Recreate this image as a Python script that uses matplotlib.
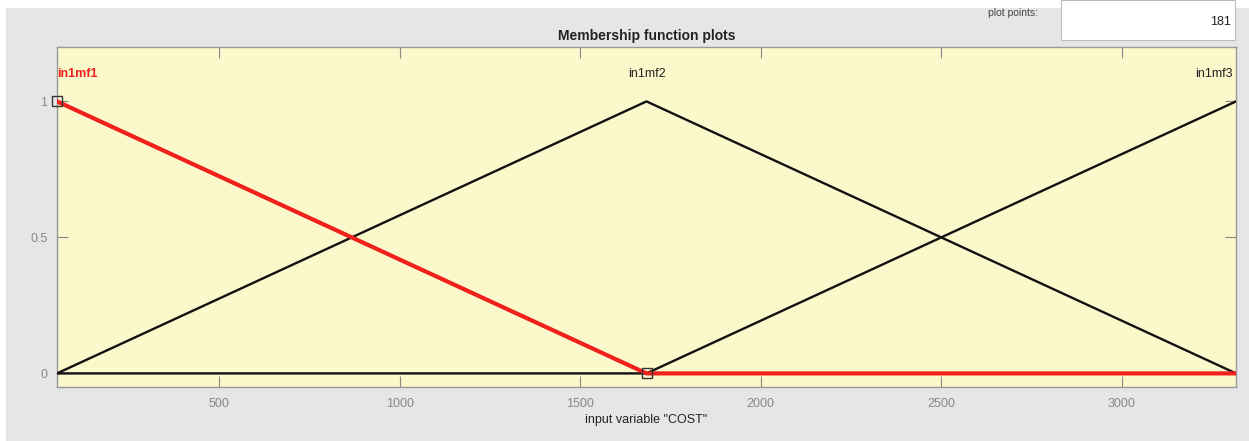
import numpy as np
import matplotlib
matplotlib.use('Agg')
import matplotlib.pyplot as plt
from matplotlib.patches import Rectangle

plt.rcParams['font.family'] = ['Liberation Sans', 'DejaVu Sans']

# input variable range and triangular membership functions (vertices)
x_range = [51, 3316]
mf_names = ['in1mf1', 'in1mf2', 'in1mf3']
mf_x = [51, 1683.5, 3316]
mf1_y = [1, 0, 0]
mf2_y = [0, 1, 0]
mf3_y = [0, 0, 1]
plot_points = 181

xticks = [500, 1000, 1500, 2000, 2500, 3000]
yticks = [0, 0.5, 1]
yticklabels = ['0', '0.5', '1']

W, H = 1249, 441
fig = plt.figure(figsize=(W/100., H/100.), dpi=100)
fig.patch.set_facecolor('#e6e6e6')

# white strips along top and left edge
fig.patches.append(Rectangle((0, 1 - 8./H), 1, 8./H, transform=fig.transFigure,
                             facecolor='white', edgecolor='none', zorder=0))
fig.patches.append(Rectangle((0, 0), 6./W, 1, transform=fig.transFigure,
                             facecolor='white', edgecolor='none', zorder=0))

ax = fig.add_axes([57./W, 1 - 387./H, (1236.-57)/W, (387.-47)/H])
ax.set_facecolor('#fbf8cc')

ax.plot(mf_x, mf2_y, color='#111111', lw=1.7, zorder=3)
ax.plot(mf_x, mf3_y, color='#111111', lw=1.7, zorder=3)
ax.plot(mf_x, mf1_y, color='#f0201c', lw=3, zorder=4)
# selection handles on the active MF
ax.plot(mf_x[:2], mf1_y[:2], linestyle='none', marker='s', markersize=7,
        markerfacecolor='none', markeredgecolor='#333333', markeredgewidth=1, zorder=5,
        clip_on=False)

ax.text(x_range[0], 1.1, mf_names[0], color='#f0201c', fontsize=9, fontweight='bold',
        ha='left', va='center')
ax.text(mf_x[1], 1.1, mf_names[1], color='#222222', fontsize=9, ha='center', va='center')
ax.text(x_range[1] - 8, 1.1, mf_names[2], color='#222222', fontsize=9, ha='right', va='center')

ax.set_xlim(x_range)
ax.set_ylim([-0.05, 1.2])
ax.set_xticks(xticks)
ax.set_yticks(yticks)
ax.set_yticklabels(yticklabels)
ax.tick_params(direction='in', length=8, width=0.8, color='#888888', labelcolor='#888888',
               labelsize=9, top=True, right=True)
ax.tick_params(axis='x', pad=8)
ax.tick_params(axis='y', pad=7)
for s in ax.spines.values():
    s.set_color('#999999')
    s.set_linewidth(1)

ax.set_title('Membership function plots', fontsize=10, fontweight='bold', color='#222222', pad=5)
ax.set_xlabel('input variable "COST"', fontsize=9, color='#222222', labelpad=3)

# plot points box
fig.text(1038./W, 1 - 13./H, 'plot points:', fontsize=7.5, color='#444444', ha='right', va='center')
fig.patches.append(Rectangle((1061./W, 1 - 40./H), (1235.-1061)/W, 40./H, transform=fig.transFigure,
                             facecolor='white', edgecolor='#bbbbbb', lw=0.8, zorder=1))
fig.text(1231./W, 1 - 22./H, str(plot_points), fontsize=9, color='#222222', ha='right', va='center')

plt.savefig('out.png', dpi=100, facecolor=fig.get_facecolor())
